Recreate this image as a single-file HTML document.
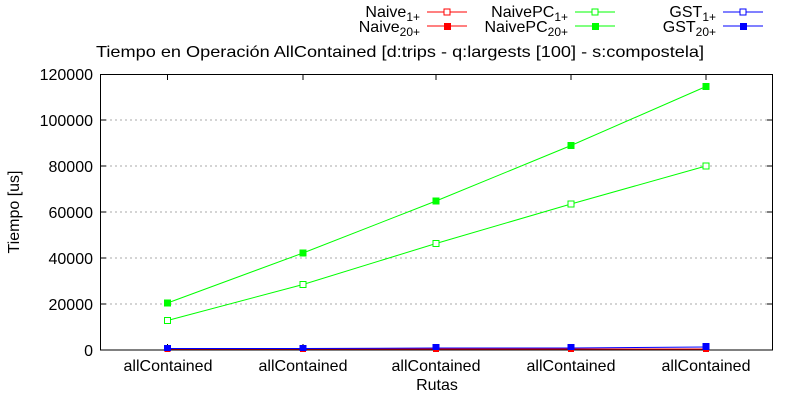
<!DOCTYPE html>
<html><head><meta charset="utf-8"><style>body{margin:0;background:#fff}svg{display:block}text{font-family:"Liberation Sans",sans-serif;font-size:16px;fill:#000}</style></head>
<body>
<svg width="800" height="400" viewBox="0 0 800 400" xmlns="http://www.w3.org/2000/svg">
<g stroke="#aaa" stroke-dasharray="2,3" stroke-width="1">
<line x1="100" y1="304" x2="773" y2="304"/><line x1="100" y1="258" x2="773" y2="258"/><line x1="100" y1="212" x2="773" y2="212"/><line x1="100" y1="166" x2="773" y2="166"/><line x1="100" y1="120" x2="773" y2="120"/>
</g>
<g stroke="#000" stroke-width="1">
<line x1="100" y1="304" x2="106" y2="304"/><line x1="100" y1="258" x2="106" y2="258"/><line x1="100" y1="212" x2="106" y2="212"/><line x1="100" y1="166" x2="106" y2="166"/><line x1="100" y1="120" x2="106" y2="120"/>
<line x1="773" y1="304" x2="767" y2="304"/><line x1="773" y1="258" x2="767" y2="258"/><line x1="773" y1="212" x2="767" y2="212"/><line x1="773" y1="166" x2="767" y2="166"/><line x1="773" y1="120" x2="767" y2="120"/>
<line x1="167.5" y1="74" x2="167.5" y2="80"/><line x1="303" y1="74" x2="303" y2="80"/><line x1="436" y1="74" x2="436" y2="80"/><line x1="571" y1="74" x2="571" y2="80"/><line x1="706" y1="74" x2="706" y2="80"/>
<line x1="167.5" y1="350" x2="167.5" y2="344"/><line x1="303" y1="350" x2="303" y2="344"/><line x1="436" y1="350" x2="436" y2="344"/><line x1="571" y1="350" x2="571" y2="344"/><line x1="706" y1="350" x2="706" y2="344"/>
</g>
<rect x="100.5" y="74.5" width="672" height="275.5" fill="none" stroke="#000"/>
<g text-anchor="end">
<text x="93" y="80">120000</text><text x="93" y="126">100000</text><text x="93" y="172">80000</text><text x="93" y="218">60000</text><text x="93" y="264">40000</text><text x="93" y="310">20000</text><text x="93" y="356">0</text>
</g>
<g text-anchor="middle">
<text x="168" y="371">allContained</text><text x="303" y="371">allContained</text><text x="436" y="371">allContained</text><text x="571" y="371">allContained</text><text x="706" y="371">allContained</text>
<text x="437" y="390">Rutas</text>
<text x="400" y="57" textLength="608" lengthAdjust="spacingAndGlyphs">Tiempo en Operación AllContained [d:trips - q:largests [100] - s:compostela]</text>
<text transform="translate(19,212) rotate(-90)">Tiempo [us]</text>
</g>
<polyline points="167.5,349 303,349 436,349 571,349 706,349" fill="none" stroke="#f00"/>
<g fill="#f00"><rect x="164.5" y="347" width="6" height="5"/><rect x="300" y="347" width="6" height="5"/><rect x="433" y="347" width="6" height="5"/><rect x="568" y="347" width="6" height="5"/><rect x="703" y="347" width="6" height="5"/></g>
<polyline points="167.5,320.5 303,284.5 436,243.5 571,204 706,166" fill="none" stroke="#0f0"/>
<g fill="#fff" stroke="#0f0"><rect x="164.5" y="317.5" width="6" height="6"/><rect x="300" y="281.5" width="6" height="6"/><rect x="433" y="240.5" width="6" height="6"/><rect x="568" y="201" width="6" height="6"/><rect x="703" y="163" width="6" height="6"/></g>
<polyline points="167.5,303 303,253 436,201 571,145.5 706,86.5" fill="none" stroke="#0f0"/>
<g fill="#0f0"><rect x="164" y="299.5" width="7" height="7"/><rect x="299.5" y="249.5" width="7" height="7"/><rect x="432.5" y="197.5" width="7" height="7"/><rect x="567.5" y="142" width="7" height="7"/><rect x="702.5" y="83" width="7" height="7"/></g>
<polyline points="167.5,348.5 303,348.5 436,348 571,348 706,347" fill="none" stroke="#00f"/>
<g fill="#00f"><rect x="164" y="345" width="7" height="6"/><rect x="299.5" y="345" width="7" height="6"/><rect x="432.5" y="344" width="7" height="6"/><rect x="567.5" y="344" width="7" height="6"/><rect x="702.5" y="343" width="7" height="7"/></g>
<g text-anchor="end" style="font-size:17px">
<text x="420" y="17">Naive<tspan font-size="12" dy="4">1+</tspan></text>
<text x="420" y="32">Naive<tspan font-size="12" dy="4">20+</tspan></text>
<text x="568" y="17">NaivePC<tspan font-size="12" dy="4">1+</tspan></text>
<text x="568" y="32">NaivePC<tspan font-size="12" dy="4">20+</tspan></text>
<text x="716" y="17">GST<tspan font-size="12" dy="4">1+</tspan></text>
<text x="716" y="32">GST<tspan font-size="12" dy="4">20+</tspan></text>
</g>
<line x1="427" y1="12" x2="467" y2="12" stroke="#f00"/><rect x="444" y="9" width="6" height="6" fill="#fff" stroke="#f00"/>
<line x1="427" y1="26" x2="467" y2="26" stroke="#f00"/><rect x="444" y="23" width="7" height="7" fill="#f00"/>
<line x1="575" y1="12" x2="615" y2="12" stroke="#0f0"/><rect x="592" y="9" width="6" height="6" fill="#fff" stroke="#0f0"/>
<line x1="575" y1="26" x2="615" y2="26" stroke="#0f0"/><rect x="592" y="23" width="7" height="7" fill="#0f0"/>
<line x1="723" y1="12" x2="763" y2="12" stroke="#00f"/><rect x="740" y="9" width="6" height="6" fill="#fff" stroke="#00f"/>
<line x1="723" y1="26" x2="763" y2="26" stroke="#00f"/><rect x="740" y="23" width="7" height="7" fill="#00f"/>
</svg>
</body></html>
